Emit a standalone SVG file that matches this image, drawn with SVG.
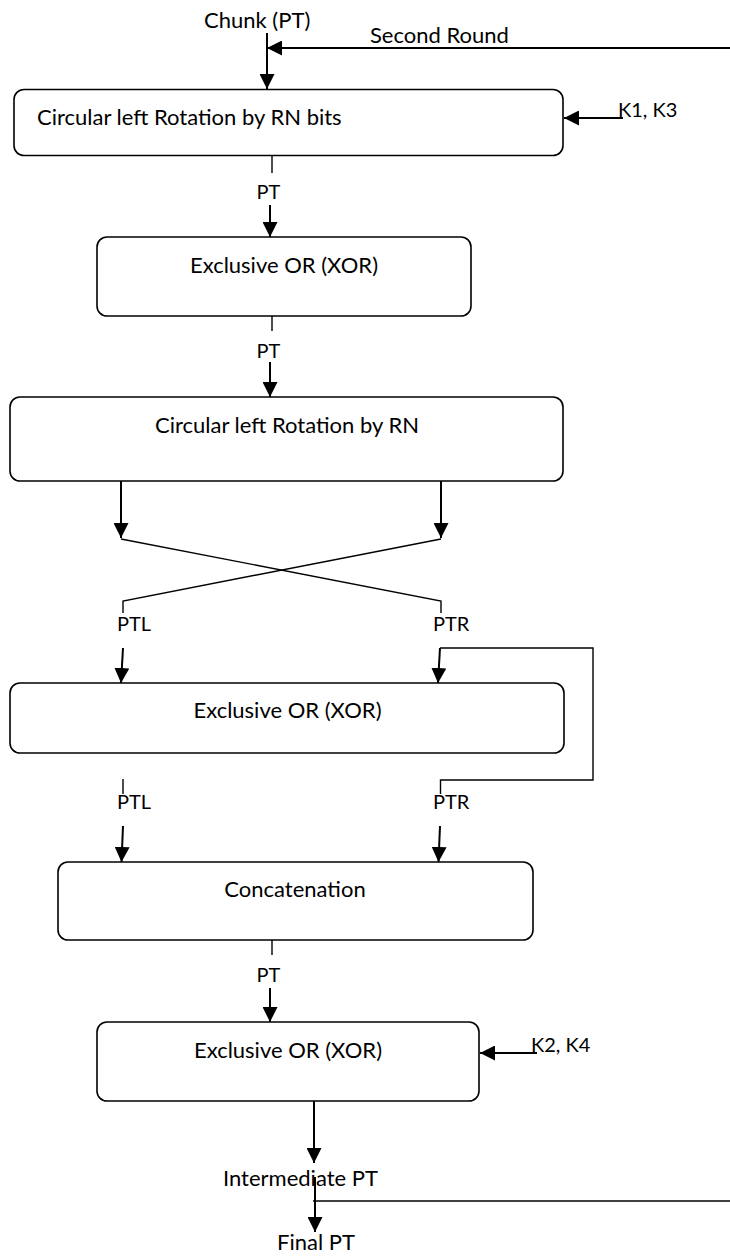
<svg xmlns="http://www.w3.org/2000/svg" width="730" height="1257" viewBox="0 0 730 1257">
  <style>
    .box { fill: #ffffff; stroke: #000000; stroke-width: 1.6; }
    .t { font-family: Lato, "Liberation Sans", sans-serif; font-size: 22px; fill: #000000; }
    .s { font-family: Lato, "Liberation Sans", sans-serif; font-size: 20px; fill: #000000; }
    .c { text-anchor: middle; }
    .arr { fill: none; stroke: #000000; stroke-width: 2; marker-end: url(#ah); }
    .ln { fill: none; stroke: #000000; stroke-width: 1.4; }
  </style>
  <defs>
    <marker id="ah" markerUnits="userSpaceOnUse" markerWidth="16" markerHeight="15" refX="15" refY="7.5" orient="auto">
      <path d="M0,0 L15,7.5 L0,15 Z" fill="#000000"/>
    </marker>
  </defs>
  <rect width="730" height="1257" fill="#ffffff"/>

  <g id="node-rotate-bits">
    <rect class="box" x="14" y="89.5" width="549" height="66" rx="10"/>
    <text class="t" x="37" y="125">Circular left Rotation by RN bits</text>
  </g>
  <g id="node-xor-1">
    <rect class="box" x="97" y="237" width="374" height="79" rx="10"/>
    <text class="t c" x="284" y="273">Exclusive OR (XOR)</text>
  </g>
  <g id="node-rotate-rn">
    <rect class="box" x="10" y="397" width="553" height="84" rx="10"/>
    <text class="t c" x="287" y="433">Circular left Rotation by RN</text>
  </g>
  <g id="node-xor-2">
    <rect class="box" x="10" y="683" width="554" height="70" rx="10"/>
    <text class="t c" x="287.5" y="718">Exclusive OR (XOR)</text>
  </g>
  <g id="node-concat">
    <rect class="box" x="58" y="862" width="475" height="78" rx="10"/>
    <text class="t c" x="295" y="897">Concatenation</text>
  </g>
  <g id="node-xor-3">
    <rect class="box" x="97" y="1022" width="382" height="79" rx="10"/>
    <text class="t c" x="288" y="1058">Exclusive OR (XOR)</text>
  </g>

  <g id="connectors">
    <!-- input -->
    <line class="arr" x1="267" y1="33" x2="267" y2="89"/>
    <text class="t" x="204" y="28">Chunk (PT)</text>
    <line class="arr" x1="730" y1="48" x2="267" y2="48"/>
    <text class="t" x="370" y="43">Second Round</text>
    <line class="arr" x1="623" y1="118" x2="564" y2="118"/>
    <text class="s" x="618" y="117">K1, K3</text>

    <!-- box1 to box2 -->
    <line class="ln" x1="272" y1="156" x2="272" y2="173"/>
    <text class="s c" x="268.5" y="199">PT</text>
    <line class="arr" x1="270" y1="205" x2="270" y2="237"/>

    <!-- box2 to box3 -->
    <line class="ln" x1="272" y1="316" x2="272" y2="331"/>
    <text class="s c" x="268.5" y="358">PT</text>
    <line class="arr" x1="270" y1="362" x2="270" y2="397"/>

    <!-- split -->
    <line class="arr" x1="121" y1="481" x2="121" y2="538"/>
    <line class="arr" x1="441" y1="481" x2="441" y2="538"/>
    <polyline class="ln" points="121,539 441,601 441,613"/>
    <polyline class="ln" points="441,539 123,601 123,613"/>
    <text class="s" x="117" y="631">PTL</text>
    <text class="s" x="433" y="631">PTR</text>

    <!-- into xor 2 -->
    <line class="arr" x1="123" y1="648" x2="121" y2="683"/>
    <polyline class="ln" points="440.5,794 440.5,780 593,780 593,648 440,648"/>
    <line class="arr" x1="440" y1="648" x2="438" y2="683"/>

    <!-- xor 2 outputs -->
    <line class="ln" x1="123" y1="779" x2="123" y2="794"/>
    <text class="s" x="117" y="809">PTL</text>
    <text class="s" x="433" y="809">PTR</text>
    <line class="arr" x1="123" y1="826" x2="121.5" y2="862"/>
    <line class="arr" x1="440" y1="826" x2="438.5" y2="862"/>

    <!-- concat to xor 3 -->
    <line class="ln" x1="272" y1="940" x2="272" y2="955"/>
    <text class="s c" x="268.5" y="982">PT</text>
    <line class="arr" x1="270" y1="988" x2="270" y2="1022"/>
    <line class="arr" x1="537" y1="1053" x2="480" y2="1053"/>
    <text class="s" x="531" y="1052">K2, K4</text>

    <!-- output -->
    <line class="arr" x1="314" y1="1101" x2="314" y2="1163"/>
    <text class="t" x="223" y="1186">Intermediate PT</text>
    <line class="arr" x1="315" y1="1177" x2="315" y2="1232"/>
    <line class="ln" x1="313" y1="1201" x2="730" y2="1201"/>
    <text class="t" x="277" y="1250">Final PT</text>
  </g>
</svg>
